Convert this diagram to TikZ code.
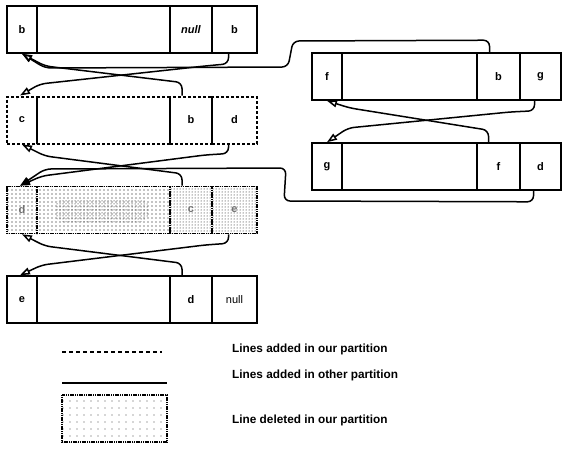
\documentclass[tikz,border=0pt]{standalone}
\usepackage{fontspec}
\setmainfont{Liberation Sans}
\usetikzlibrary{arrows.meta,patterns}
\pgfdeclarepatternformonly{sparsedots}{\pgfqpoint{-0.6pt}{-0.6pt}}{\pgfqpoint{4.6pt}{4.6pt}}{\pgfqpoint{4pt}{4pt}}{\pgfpathcircle{\pgfqpoint{0pt}{0pt}}{0.55pt}\pgfusepath{fill}}
\pgfdeclarepatternformonly{fewdots}{\pgfqpoint{-0.6pt}{-0.6pt}}{\pgfqpoint{7.6pt}{7.6pt}}{\pgfqpoint{7pt}{7pt}}{\pgfpathcircle{\pgfqpoint{0pt}{0pt}}{0.55pt}\pgfusepath{fill}}
\tikzset{
  cell/.style={draw, line width=1.6pt, minimum height=47pt, inner sep=0pt, font=\bfseries\fontsize{11}{13}\selectfont},
  added/.style={cell, dash pattern=on 3pt off 2pt, line width=2pt},
  deleted/.style={cell, dash pattern=on 1.2pt off 0.6pt, line width=1.6pt, text=black!55},
  link/.style={line width=1.5pt, rounded corners=6pt, -{Triangle[open,length=10pt,width=7pt]}},
  flink/.style={link, -{Triangle[length=10pt,width=7pt]}},
  legend/.style={anchor=west, inner sep=0pt, font=\bfseries\fontsize{11.8}{13}\selectfont},
}
\begin{document}
\begin{tikzpicture}[x=1pt, y=-1pt]
	\useasboundingbox (0,0) rectangle (562,450);

	% list on the left
	\node[cell, minimum width=30pt]  (b1) at (22,29.5) {b};
	\node[cell, minimum width=133pt] (b2) at (103.5,29.5) {};
	\node[cell, minimum width=42pt]  (b3) at (191,29.5) {\textit{null}};
	\node[cell, minimum width=45pt]  (b4) at (234.5,29.5) {b};

	\node[added, minimum width=30pt]  (c1) at (22,120) {c};
	\node[added, minimum width=133pt] (c2) at (103.5,120) {};
	\node[added, minimum width=42pt]  (c3) at (191,120) {b};
	\node[added, minimum width=45pt]  (c4) at (234.5,120) {d};

	\node[deleted, pattern=sparsedots, minimum width=30pt]  (d1) at (22,210) {d};
	\node[deleted, pattern=sparsedots, minimum width=133pt] (d2) at (103.5,210) {};
	\node[deleted, pattern=dots, minimum width=42pt]  (d3) at (191,210) {c};
	\node[deleted, pattern=dots, minimum width=45pt]  (d4) at (234.5,210) {e};
	\fill[pattern=dots, rounded corners=8pt] (55,199) rectangle (148,222);

	\node[cell, minimum width=30pt]  (e1) at (22,299.5) {e};
	\node[cell, minimum width=133pt] (e2) at (103.5,299.5) {};
	\node[cell, minimum width=42pt]  (e3) at (191,299.5) {d};
	\node[cell, minimum width=45pt]  (e4) at (234.5,299.5) {\mdseries null};

	% list on the right
	\node[cell, minimum width=30pt]  (f1) at (327,76.5) {f};
	\node[cell, minimum width=135pt] (f2) at (409.5,76.5) {};
	\node[cell, minimum width=43pt]  (f3) at (498.5,76.5) {b};
	\node[cell, minimum width=41pt]  (f4) at (540.5,76.5) {g};

	\node[cell, minimum width=30pt]  (g1) at (327,166.5) {g};
	\node[cell, minimum width=135pt] (g2) at (409.5,166.5) {};
	\node[cell, minimum width=43pt]  (g3) at (498.5,166.5) {f};
	\node[cell, minimum width=41pt]  (g4) at (540.5,166.5) {d};

	% pointers
	\draw[link] ([xshift=-6pt]b4.south) -- ++(0,10) -- (205,66) -- (40,84) -- ([xshift=-2pt]c1.north);
	\draw[link] ([xshift=-9pt]c3.north) -- ++(0,-13) -- (45,66) -- (b1.south);
	\draw[link] ([xshift=-9pt]f3.north) -- ++(0,-12) -- (293,41) -- (288,67) -- (45,68) -- (b1.south);

	\draw[flink] ([xshift=-6pt]c4.south) -- ++(0,9) -- (205,155) -- (42,176) -- ([xshift=-2pt]d1.north);
	\draw[link] ([xshift=-9pt]d3.north) -- ++(0,-12) -- (45,156) -- (c1.south);
	\draw[flink] ([xshift=-7pt]g4.south) -- ++(0,11) -- (284,201) -- (286,168) -- (45,169) -- ([xshift=-2pt]d1.north);

	\draw[link] ([xshift=-6pt]d4.south) -- ++(0,9) -- (205,245) -- (42,265) -- ([xshift=-2pt]e1.north);
	\draw[link] ([xshift=-9pt]e3.north) -- ++(0,-12) -- (45,246) -- (d1.south);

	\draw[link] ([xshift=-6pt]f4.south) -- ++(0,10) -- (510,112) -- (348,128) -- (g1.north);
	\draw[link] ([xshift=-10pt]g3.north) -- ++(0,-12) -- (350,108) -- (f1.south);

	% legend
	\draw[line width=2.4pt, dash pattern=on 4pt off 3pt] (62,352) -- (162,352);
	\node[legend] (lour) at (232,349) {Lines added in our partition};
	\draw[line width=2.4pt] (62,383) -- (167,383);
	\node[legend] (loth) at (232,375) {Lines added in other partition};
	\draw[line width=1.6pt, dash pattern=on 1.2pt off 0.6pt, pattern=fewdots, pattern color=black!70] (62,395) rectangle (167,442);
	\node[legend] (ldel) at (232,420) {Line deleted in our partition};
\end{tikzpicture}
\end{document}
